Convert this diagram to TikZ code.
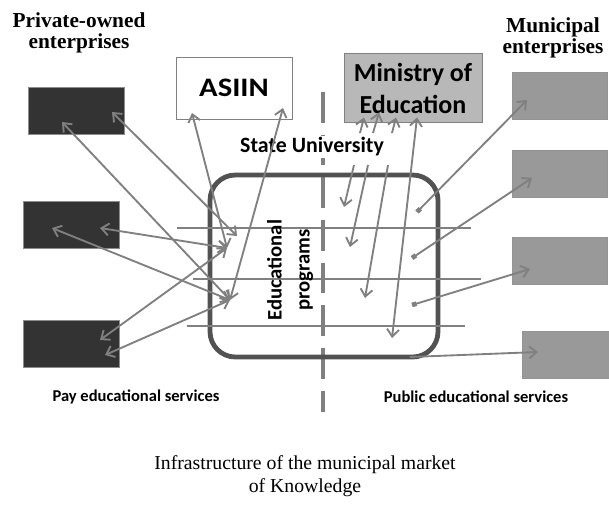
\documentclass[tikz,border=0pt]{standalone}
\usepackage{fontspec}
\setmainfont{Liberation Serif}
\newfontfamily\calibri{Carlito}
\usetikzlibrary{arrows.meta}

\begin{document}
\begin{tikzpicture}[x=0.75pt,y=-0.75pt,
    >={Straight Barb[length=5.5pt,width=9pt]},
    arr/.style={draw=black!50,line width=1.4pt},
    pbox/.style={draw=black!45,fill=black!80,minimum width=72pt,minimum height=35.5pt,inner sep=0pt},
    mbox/.style={draw=black!42,fill=black!40,minimum width=71pt,minimum height=35.5pt,inner sep=0pt},
    head/.style={font=\bfseries\fontsize{16}{16}\selectfont,align=center},
    lbl/.style={font=\calibri\bfseries\fontsize{12.4}{14}\selectfont}]
                      \useasboundingbox (0,0) rectangle (609,504);
                      % enterprises on both sides
                      \node[head](ph)at(79,33){Private-owned\\enterprises};
                      \node[head](mh)at(553,38){Municipal\\enterprises};
                      \node[pbox](p1)at(76,111){};
                      \node[pbox](p2)at(71,224.5){};
                      \node[pbox](p3)at(71,343.5){};
                      \node[mbox](m1)at(559.5,95.5){};
                      \node[mbox](m2)at(559.5,173.5){};
                      \node[mbox](m3)at(559.5,261){};
                      \node[mbox,minimum width=65pt](m4)at(565.5,354.5){};
                      % the university
                      \draw[black!50,line width=3pt,dash pattern=on 23pt off 9pt](323,92)--(323,412);
                      \draw[black!68,line width=3.6pt,rounded corners=19pt](210,175)rectangle(438,357);
                      \draw[black!50,line width=1.1pt](177,228)--(471,228);
                      \draw[black!50,line width=1.1pt](193,279)--(481,279);
                      \draw[black!50,line width=1.1pt](187,326)--(465,326);
                      \node[draw=black!50,fill=white,minimum width=87pt,minimum height=46.5pt,
                            font=\calibri\bfseries\fontsize{20}{20}\selectfont](asiin)at(234,88){\scalebox{1.15}[1]{ASIIN}};
                      \node[draw=black!50,fill=black!28,minimum width=103.5pt,minimum height=51.5pt,align=center,
                            font=\calibri\bfseries\fontsize{19.5}{24}\selectfont](moe)at(413,88){Ministry of\\Education};
                      \node[fill=white,inner sep=1pt,font=\calibri\bfseries\fontsize{16.4}{18}\selectfont](su)at(312,147){State University};
                      \node[rotate=90,align=center,font=\calibri\bfseries\fontsize{15.5}{21}\selectfont](ep)at(290,270){Educational\\programs};
                      % inner ends
                      \coordinate(q1)at(237,236);
                      \coordinate(q2)at(227,248);
                      \coordinate(q3)at(230,300);
                      \coordinate(s1)at(417,212);
                      \coordinate(s2)at(412,258);
                      \coordinate(s3)at(412,305);
                      \coordinate(s4)at(410,357);
                      \coordinate(u1)at(360,133);
                      \coordinate(u2)at(373,133);
                      \coordinate(u3)at(392,133);
                      \coordinate(d1)at(354,165);
                      \coordinate(d2)at(368,165);
                      \coordinate(d3)at(388,165);
                      \coordinate(e1)at(344,207);
                      \coordinate(e2)at(350,247);
                      \coordinate(e3)at(365,298);
                      \coordinate(e4)at(392,338);
                      % pay services
                      \draw[arr,<->]([shift={(36,1)}]p1.center)--(q1);
                      \draw[arr,<->]([shift={(-14,11)}]p1.center)--(q3);
                      \draw[arr,<->]([shift={(29,3.5)}]p2.center)--(q2);
                      \draw[arr,<->]([shift={(-19,3.5)}]p2.center)--(q3);
                      \draw[arr,<->]([shift={(29,-3.5)}]p3.center)--(q2);
                      \draw[arr,<->]([shift={(34,11.5)}]p3.center)--(q3);
                      \draw[arr,<->]([shift={(-42,25)}]asiin.center)--(q2);
                      \draw[arr,<->]([shift={(49,20)}]asiin.center)--(q3);
                      % public services
                      \foreach \i/\dx/\dy in {1/-49/29.5,2/-34/24.5,3/-17/29.5}
                          \draw[arr,->](u\i)--([shift={(\dx,\dy)}]moe.center);
                      \foreach \i in {1,2,3}
                          \draw[arr,->](d\i)--(e\i);
                      \draw[arr,<->]([shift={(4,29.5)}]moe.center)--(e4);
                      \draw[arr,{Square[length=3.5pt,width=3.5pt]}->](s1)--([shift={(-32.5,4.5)}]m1.center);
                      \draw[arr,{Square[length=3.5pt,width=3.5pt]}->](s2)--([shift={(-27.5,4.5)}]m2.center);
                      \draw[arr,{Square[length=3.5pt,width=3.5pt]}->](s3)--([shift={(-29.5,8)}]m3.center);
                      \draw[arr,->](s4)--([shift={(-27.5,-2.5)}]m4.center);
                      % labels and caption
                      \node[lbl](pay)at(136,397){Pay educational services};
                      \node[lbl](pub)at(476,397){Public educational services};
                      \node[font=\fontsize{14.8}{17}\selectfont,align=center](cap)at(305,476){Infrastructure of the municipal market\\of Knowledge};
                  \end{tikzpicture}
\end{document}
